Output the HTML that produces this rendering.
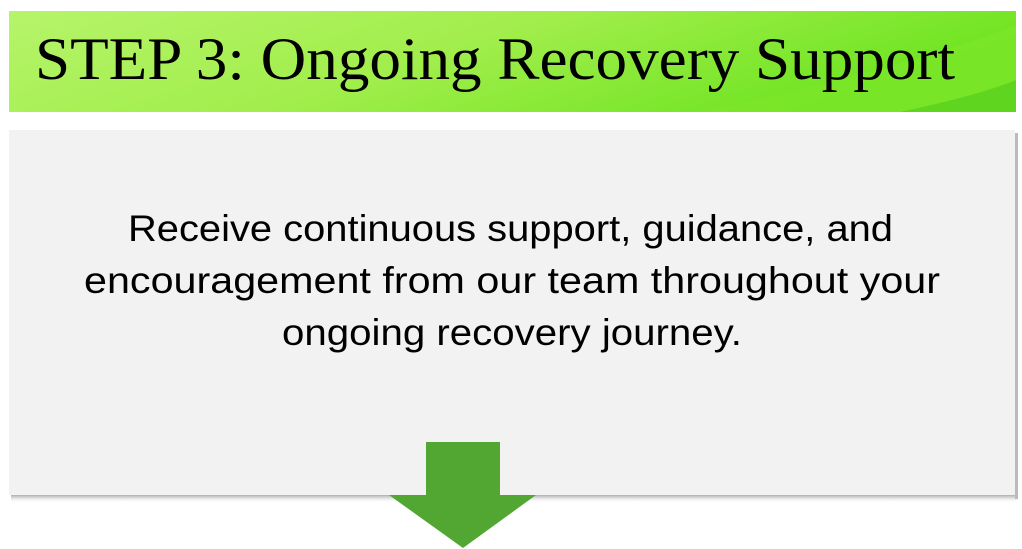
<!DOCTYPE html>
<html><head><meta charset="utf-8"><style>
html,body{margin:0;padding:0;background:#fff;width:1022px;height:549px;overflow:hidden}
</style></head><body>
<svg width="1022" height="549" viewBox="0 0 1022 549" xmlns="http://www.w3.org/2000/svg">
<defs>
<linearGradient id="g" x1="0" y1="0" x2="1" y2="0.3">
<stop offset="0" stop-color="#b6f46a"/>
<stop offset="0.5" stop-color="#a2ee4c"/>
<stop offset="1" stop-color="#6fe421"/>
</linearGradient>
<linearGradient id="sh" x1="0" y1="0" x2="0" y2="1">
<stop offset="0" stop-color="#999" stop-opacity="0.8"/>
<stop offset="1" stop-color="#fff" stop-opacity="0"/>
</linearGradient>
</defs>
<rect x="9" y="11" width="1007" height="101" fill="url(#g)"/>
<path d="M700 112 Q900 70 1016 25 L1016 112 Z" fill="#7fe62c" opacity="0.6"/>
<path d="M900 112 Q980 95 1016 80 L1016 112 Z" fill="#4fc91a" opacity="0.6"/>
<text x="35" y="79" font-family="Liberation Serif, serif" font-size="60" textLength="920" lengthAdjust="spacingAndGlyphs" fill="#000">STEP 3:  Ongoing Recovery Support</text>
<rect x="11" y="495" width="1006" height="8" fill="url(#sh)"/>
<rect x="1015" y="133" width="3" height="366" fill="#bbb"/>
<rect x="9" y="130" width="1006" height="365" fill="#f2f2f2"/>
<g font-family="Liberation Sans, sans-serif" font-size="37" fill="#000">
<text x="128" y="241" textLength="765" lengthAdjust="spacingAndGlyphs">Receive continuous support, guidance, and</text>
<text x="84" y="293" textLength="856" lengthAdjust="spacingAndGlyphs">encouragement from our team throughout your</text>
<text x="282" y="345" textLength="460" lengthAdjust="spacingAndGlyphs">ongoing recovery journey.</text>
</g>
<path d="M426 442 L500 442 L500 495 L536 495 L463 548 L389 495 L426 495 Z" fill="#52a732"/>
</svg>
</body></html>
